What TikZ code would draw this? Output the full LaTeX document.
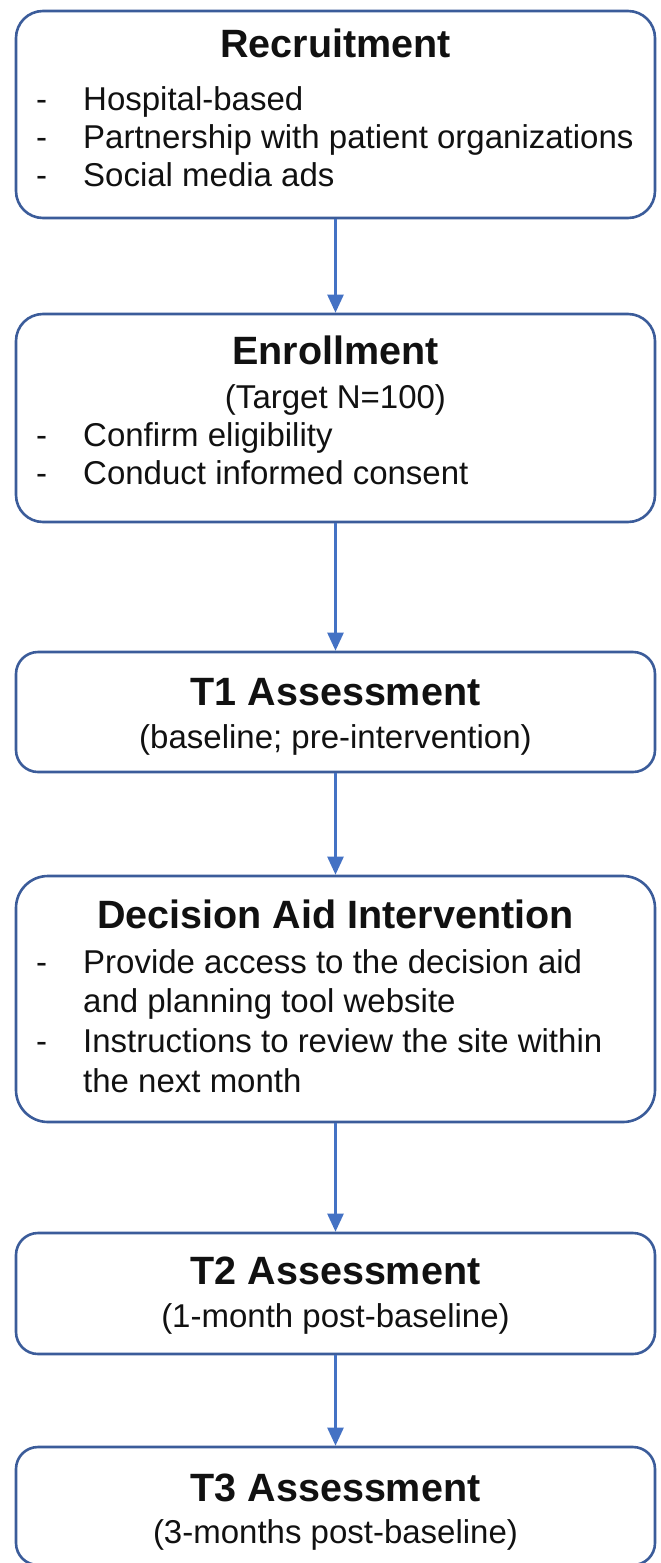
\documentclass[tikz,border=0pt]{standalone}
\usepackage{fontspec}
\setmainfont{Liberation Sans}
\usetikzlibrary{arrows.meta}
\definecolor{boxblue}{HTML}{3B5C9A}
\definecolor{arrblue}{HTML}{4472C4}
\definecolor{inktext}{HTML}{111111}
\begin{document}
\begin{tikzpicture}[x=1pt,y=-1pt,
  box/.style={draw=boxblue, line width=2.6pt, fill=white, inner sep=0pt, minimum width=639pt},
  ttl/.style={font=\fontsize{39.5}{46}\selectfont\bfseries, text=inktext, anchor=base, inner sep=0pt},
  txt/.style={font=\fontsize{33}{39}\selectfont, text=inktext, anchor=base west, inner sep=0pt},
  ctr/.style={font=\fontsize{33}{39}\selectfont, text=inktext, anchor=base, inner sep=0pt},
  arr/.style={draw=arrblue, line width=2.4pt, -{Triangle[width=16pt,length=18pt]}}]
\useasboundingbox (0,0) rectangle (661,1563);
\newcommand{\dashitem}[1]{\makebox[47pt][l]{-}#1}

% boxes
\node[box, rounded corners=27pt, minimum height=207pt] (rec) at (335.5,114.5) {};
\node[box, rounded corners=27pt, minimum height=208pt] (enr) at (335.5,418) {};
\node[box, rounded corners=22pt, minimum height=120pt] (tone) at (335.5,712) {};
\node[box, rounded corners=32pt, minimum height=246pt] (dai) at (335.5,999) {};
\node[box, rounded corners=22pt, minimum height=121pt] (ttwo) at (335.5,1293.5) {};
\node[box, rounded corners=22pt, minimum height=118pt] (tthree) at (335.5,1506) {};

% texts
\node[ttl] (rect) at (335.5,58) {Recruitment};
\node[txt] (rec1) at (36,110) {\dashitem{Hospital-based}};
\node[txt] (rec2) at (36,148) {\dashitem{Partnership with patient organizations}};
\node[txt] (rec3) at (36,186) {\dashitem{Social media ads}};

\node[ttl] (enrt) at (335.5,364) {Enrollment};
\node[ctr] (enrs) at (335.5,408) {(Target N=100)};
\node[txt] (enr1) at (36,446) {\dashitem{Confirm eligibility}};
\node[txt] (enr2) at (36,484) {\dashitem{Conduct informed consent}};

\node[ttl] (tonet) at (335.5,705) {T1 Assessment};
\node[ctr] (tones) at (335.5,748) {(baseline; pre-intervention)};

\node[ttl] (dait) at (335.5,928) {Decision Aid Intervention};
\node[txt] (dai1) at (36,973) {\dashitem{Provide access to the decision aid}};
\node[txt] (dai2) at (83,1012) {and planning tool website};
\node[txt] (dai3) at (36,1052) {\dashitem{Instructions to review the site within}};
\node[txt] (dai4) at (83,1092) {the next month};

\node[ttl] (ttwot) at (335.5,1284) {T2 Assessment};
\node[ctr] (ttwos) at (335.5,1327) {(1-month post-baseline)};

\node[ttl] (tthreet) at (335.5,1501) {T3 Assessment};
\node[ctr] (tthrees) at (335.5,1543) {(3-months post-baseline)};

% arrows
\draw[arr] (rec) -- (enr);
\draw[arr] (enr) -- (tone);
\draw[arr] (tone) -- (dai);
\draw[arr] (dai) -- (ttwo);
\draw[arr] (ttwo) -- (tthree);
\end{tikzpicture}
\end{document}
